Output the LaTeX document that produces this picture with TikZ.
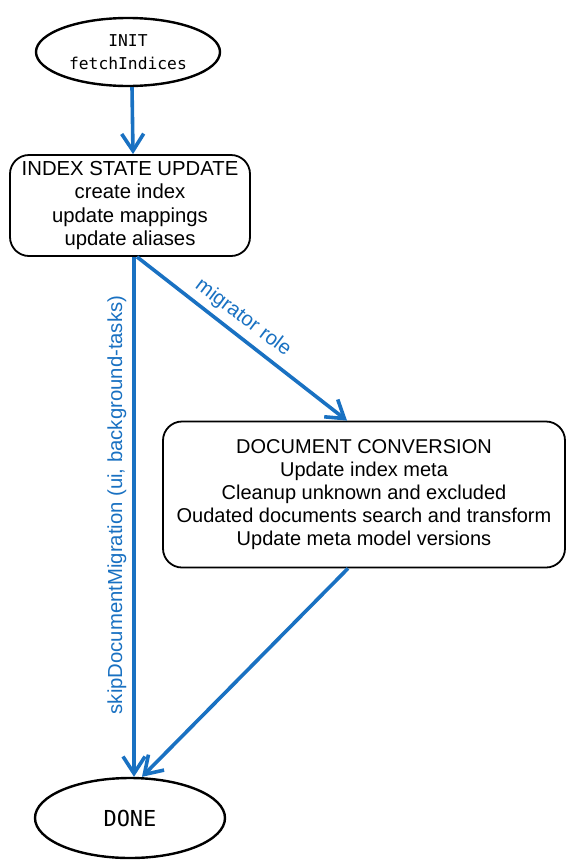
\documentclass[tikz,border=0pt]{standalone}
\usepackage{fontspec}
\setmainfont{Liberation Sans}
\newfontfamily\handfont{DejaVu Sans Mono}
\usetikzlibrary{arrows.meta,shapes.geometric}
\definecolor{eblue}{HTML}{1971C2}
\begin{document}
\begin{tikzpicture}[x=1pt,y=-1pt,
  term/.style={ellipse,draw=black,line width=2.4pt,fill=white,minimum width=184pt,minimum height=68pt,inner sep=0pt,align=center,font=\handfont\fontsize{16.3}{23}\selectfont},
  stbox/.style={draw=black,line width=1.8pt,rounded corners=19pt,fill=white,align=center,inner sep=0pt},
  flow/.style={draw=eblue,line width=3.6pt,-{Straight Barb[length=17pt,width=22pt,line width=3.6pt]}},
  lbl/.style={text=eblue,font=\fontsize{20.3}{23}\selectfont,inner sep=0pt}]
\useasboundingbox[fill=white] (0,0) rectangle (573,868);
\node[term] (init) at (128,52) {INIT\\fetchIndices};
\node[stbox,minimum width=240pt,minimum height=101pt,font=\fontsize{20.3}{23.3}\selectfont] (idx) at (130,205.5) {INDEX STATE UPDATE\\create index\\update mappings\\update aliases};
\node[stbox,minimum width=402pt,minimum height=146pt,font=\fontsize{20}{22.8}\selectfont] (doc) at (364,494.5) {DOCUMENT CONVERSION\\Update index meta\\Cleanup unknown and excluded\\Oudated documents search and transform\\Update meta model versions};
\node[term,minimum width=190pt,minimum height=80pt,font=\handfont\fontsize{22}{23}\selectfont] (done) at (130,818) {DONE};
\draw[flow] ([xshift=4pt]init.south) -- ([xshift=3pt]idx.north);
\draw[flow] ([xshift=4pt]idx.south) -- ([xshift=4pt]done.north);
\draw[flow] ([xshift=7pt]idx.south) -- ([xshift=-17pt]doc.north);
\draw[flow] ([xshift=-16pt]doc.south) -- ([xshift=12pt]done.north);
\node[lbl,rotate=-37] (lmig) at (243,318) {migrator role};
\node[lbl,rotate=90] (lskip) at (117,505) {skipDocumentMigration (ui, background-tasks)};
\end{tikzpicture}
\end{document}
